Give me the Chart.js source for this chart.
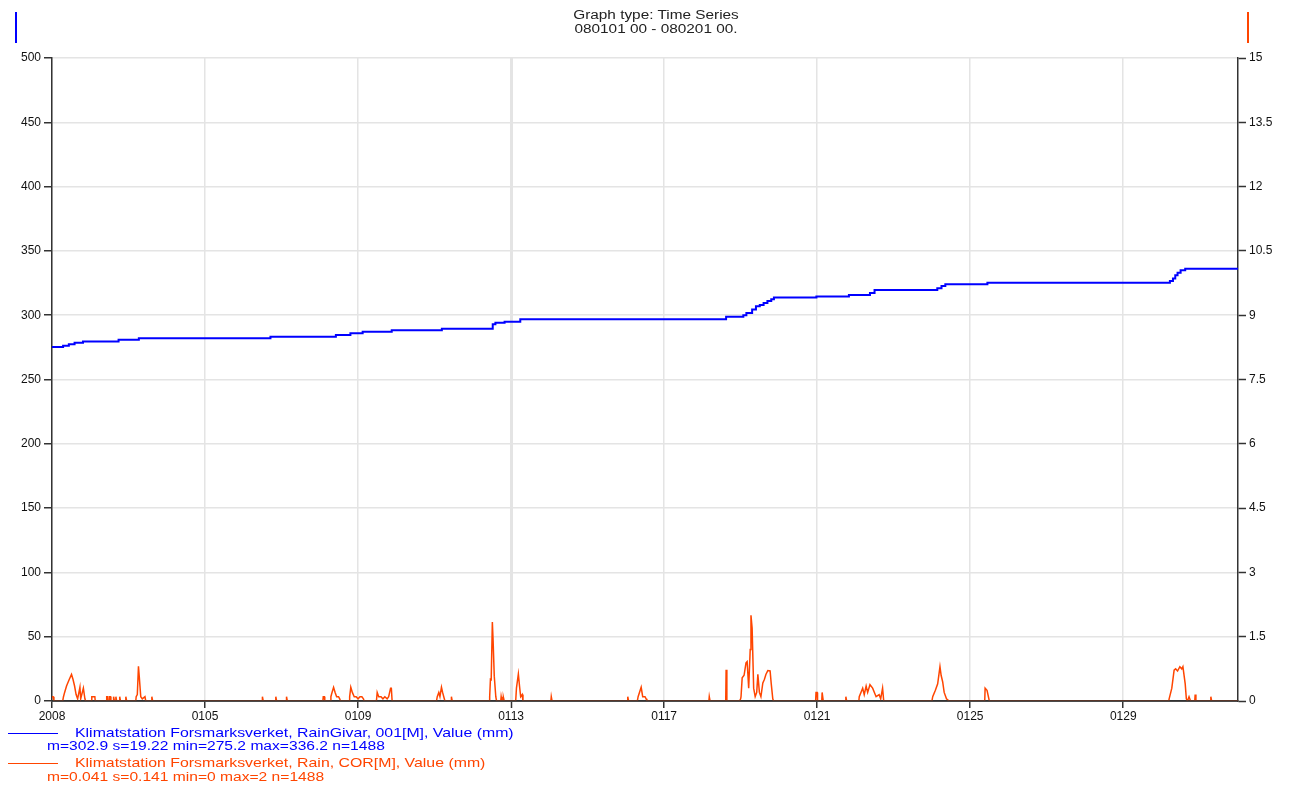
<!DOCTYPE html>
<html><head><meta charset="utf-8">
<script src="https://cdn.jsdelivr.net/npm/chart.js@4"></script>
<style>
body{margin:0;background:#fff;}
#wrap{position:relative;width:1293px;height:787px;font-family:"Liberation Sans",Arial,sans-serif;overflow:hidden;}
canvas{position:absolute;left:0;top:0;}
.t{position:absolute;white-space:nowrap;transform-origin:0 0;}
.bar{position:absolute;}
</style></head><body>
<div id="wrap">
<canvas id="c" width="1293" height="787"></canvas>
<div class="bar" style="left:15px;top:12px;width:2px;height:31px;background:#0000ff;"></div>
<div class="bar" style="left:1247px;top:12px;width:2px;height:31px;background:#ff4500;"></div>
<div class="t" style="left:456px;width:400px;top:8px;text-align:center;font-size:12px;line-height:14px;color:#222;transform:scaleX(1.28);transform-origin:200px 0;">Graph type: Time Series<br>080101 00 - 080201 00.</div>
<div class="bar" style="left:8px;top:733px;width:50px;height:1px;background:#0000ff;"></div>
<div class="t" style="left:75px;top:725px;font-size:13px;color:#0000ff;transform:scaleX(1.22);">Klimatstation Forsmarksverket, RainGivar, 001[M], Value (mm)</div>
<div class="t" style="left:47px;top:739px;font-size:12px;color:#0000ff;transform:scaleX(1.3);">m=302.9 s=19.22 min=275.2 max=336.2 n=1488</div>
<div class="bar" style="left:8px;top:763px;width:50px;height:1px;background:#ff4500;"></div>
<div class="t" style="left:75px;top:755px;font-size:13px;color:#ff4500;transform:scaleX(1.22);">Klimatstation Forsmarksverket, Rain, COR[M], Value (mm)</div>
<div class="t" style="left:47px;top:770px;font-size:12px;color:#ff4500;transform:scaleX(1.3);">m=0.041 s=0.141 min=0 max=2 n=1488</div>
</div>
<script>
// Blue series: cumulative gauge (left axis), day since 2008-01-01 00:00
const givarDays = [0,0.29,0.44,0.59,0.81,1.74,2.27,5.71,7.42,7.8,8.12,8.88,10.19,11.52,11.59,11.83,12.24,17.62,18.07,18.15,18.3,18.4,18.5,18.6,18.7,18.8,18.87,19.98,20.83,21.38,21.5,23.14,23.25,23.35,24.45,29.22,29.3,29.36,29.42,29.5,29.62,31];
const givarValues = [275.2,276.3,277.5,278.6,279.6,280.9,282.1,283.2,284.7,286.0,287.2,288.3,289.5,292.9,294.1,295.0,296.9,298.8,300.0,301.8,304.5,306.9,308.0,309.4,311.0,312.5,313.8,314.5,315.8,317.2,319.6,321.0,322.8,324.0,325.3,326.5,328.5,331.0,333.0,334.9,336.2,336.2];

// Orange series: rain per half hour (right axis)
const rainDays = [0,0.03,0.05,0.28,0.3,0.33,0.38,0.45,0.51,0.55,0.59,0.63,0.67,0.73,0.75,0.82,0.86,0.88,
1.03,1.04,1.12,1.13,1.42,1.43,1.46,1.47,1.5,1.51,1.53,1.54,1.6,1.61,1.63,1.66,1.67,1.69,1.76,1.77,1.79,
1.92,1.93,1.95,2.19,2.2,2.23,2.26,2.28,2.32,2.36,2.43,2.45,2.6,2.61,2.63,
5.49,5.5,5.52,5.84,5.85,5.87,6.12,6.13,6.15,
7.08,7.09,7.12,7.13,7.27,7.29,7.32,7.36,7.4,7.44,7.49,7.52,7.54,
7.77,7.78,7.81,7.85,7.9,7.95,8.0,8.05,8.1,8.14,8.16,
8.48,8.5,8.54,8.6,8.65,8.7,8.76,8.8,8.85,8.87,8.89,
10.05,10.07,10.11,10.14,10.18,10.21,10.24,10.27,10.43,10.44,10.46,
11.43,11.44,11.46,11.48,11.51,11.53,11.56,11.6,11.62,11.73,11.74,11.76,11.79,11.8,11.82,
12.12,12.14,12.19,12.22,12.25,12.29,12.31,13.04,13.05,13.07,
15.04,15.05,15.07,15.3,15.32,15.4,15.44,15.5,15.53,15.55,
17.17,17.18,17.2,17.61,17.62,17.64,
17.97,18.0,18.01,18.04,18.09,18.14,18.17,18.21,18.25,18.27,18.3,18.34,18.38,18.42,18.45,18.49,18.53,18.58,18.62,18.66,18.71,18.77,18.8,18.84,18.86,
19.96,19.97,20.0,20.01,20.12,20.13,20.15,20.16,20.74,20.75,20.77,
21.09,21.1,21.19,21.23,21.28,21.32,21.38,21.45,21.54,21.62,21.66,21.71,21.74,
23.0,23.02,23.09,23.15,23.21,23.24,23.28,23.32,23.38,23.45,
24.38,24.39,24.44,24.5,
29.19,29.2,29.27,29.33,29.37,29.42,29.48,29.53,29.56,29.62,29.65,29.68,29.72,29.76,29.87,29.88,29.9,30.28,30.29,30.31,31];
const rainValues = [0.1,0.1,0,0,0.1,0.2,0.35,0.5,0.62,0.5,0.35,0.15,0.05,0.32,0.05,0.3,0.05,0,
0,0.1,0.1,0,0,0.1,0.1,0,0,0.1,0.1,0,0,0.1,0,0,0.1,0,0,0.1,0,
0,0.1,0,0,0.1,0.15,0.81,0.58,0.1,0.05,0.1,0,0,0.1,0,
0,0.1,0,0,0.1,0,0,0.1,0,
0,0.1,0.1,0,0,0.1,0.2,0.32,0.2,0.1,0.1,0.05,0,
0,0.1,0.32,0.2,0.1,0.1,0.05,0.1,0.1,0.05,0,
0,0.2,0.1,0.1,0.05,0.1,0.05,0.1,0.3,0.3,0,
0,0.1,0.2,0.1,0.32,0.2,0.1,0,0,0.1,0,
0,0.1,0.51,0.5,1.84,1.4,0.58,0.1,0,0,0.1,0,0,0.08,0,
0,0.3,0.63,0.35,0.1,0.15,0,0,0.1,0,
0,0.1,0,0,0.1,0.32,0.1,0.1,0.05,0,
0,0.1,0,0,0.73,0,
0,0.05,0.1,0.54,0.6,0.89,0.92,0.3,1.2,2.0,1.7,0.3,0.1,0.2,0.62,0.2,0.1,0.42,0.5,0.62,0.71,0.7,0.4,0.05,0,
0,0.2,0.2,0,0,0.2,0.2,0,0,0.1,0,
0,0.1,0.3,0.15,0.35,0.2,0.38,0.3,0.1,0.15,0.05,0.3,0,
0,0.1,0.25,0.4,0.8,0.6,0.45,0.2,0.05,0,
0,0.3,0.25,0,
0,0.05,0.3,0.72,0.75,0.7,0.8,0.75,0.8,0.4,0.05,0,0.1,0,0,0.15,0,0,0.1,0,0];

const xTickDays = [0,4,8,12,16,20,24,28];
const xTickLabels = ['2008','0105','0109','0113','0117','0121','0125','0129'];
const leftTicks = [0,50,100,150,200,250,300,350,400,450,500];
const rightTicks = [0,1.5,3,4.5,6,7.5,9,10.5,12,13.5,15];
const rightTickLabels = ['0','1.5','3','4.5','6','7.5','9','10.5','12','13.5','15'];

const axisLine = {
  id:'axisLine',
  afterDatasetsDraw(chart){
    const {ctx, chartArea:a} = chart;
    ctx.save();
    ctx.strokeStyle = '#333';
    ctx.lineWidth = 1.5;
    ctx.beginPath();
    ctx.moveTo(a.left, a.bottom);
    ctx.lineTo(a.right, a.bottom);
    ctx.stroke();
    ctx.restore();
  }
};

new Chart(document.getElementById('c'), {
  type:'line',
  data:{
    datasets:[
      {label:'RainGivar', data: givarDays.map((d,i)=>({x:d,y:givarValues[i]})), yAxisID:'y',
       borderColor:'#0000ff', borderWidth:2, pointRadius:0, stepped:true, fill:false},
      {label:'Rain COR', data: rainDays.map((d,i)=>({x:d,y:rainValues[i]})), yAxisID:'y1',
       borderColor:'#ff4500', borderWidth:1.5, pointRadius:0, tension:0, fill:false}
    ]
  },
  options:{
    responsive:false, animation:false, devicePixelRatio:1,
    layout:{padding:{top:58,left:0,right:0,bottom:0}},
    plugins:{legend:{display:false}, title:{display:false}, tooltip:{enabled:false}},
    scales:{
      x:{type:'linear', min:0, max:31,
        afterBuildTicks:(s)=>{s.ticks = xTickDays.map(v=>({value:v}));},
        afterFit:(s)=>{s.height = 86;},
        ticks:{callback:(v,i)=>xTickLabels[i], autoSkip:false, maxRotation:0, font:{family:'Liberation Sans', size:12}, color:'#111', padding:1},
        grid:{color:'#e4e4e4', lineWidth:(c)=> (c.tick && c.tick.value===12) ? 3 : 1.5, tickLength:7, tickColor:'#333', tickWidth:1.5},
        border:{color:'#333', width:1.5}
      },
      y:{position:'left', min:0, max:500,
        afterBuildTicks:(s)=>{s.ticks = leftTicks.map(v=>({value:v}));},
        afterFit:(s)=>{s.width = 52;},
        ticks:{font:{family:'Liberation Sans', size:12}, color:'#111', padding:3},
        grid:{color:'#e4e4e4', lineWidth:1.5, tickLength:8, tickColor:'#333', tickWidth:1.5},
        border:{color:'#333', width:1.5}
      },
      y1:{position:'right', min:0, max:15,
        afterBuildTicks:(s)=>{s.ticks = rightTicks.map(v=>({value:v}));},
        afterFit:(s)=>{s.width = 55;},
        ticks:{callback:(v,i)=>rightTickLabels[i], font:{family:'Liberation Sans', size:12}, color:'#111', padding:3},
        grid:{drawOnChartArea:false, tickLength:8, tickColor:'#333', tickWidth:1.5},
        border:{color:'#333', width:1.5}
      }
    }
  },
  plugins:[axisLine]
});
</script>
</body></html>
